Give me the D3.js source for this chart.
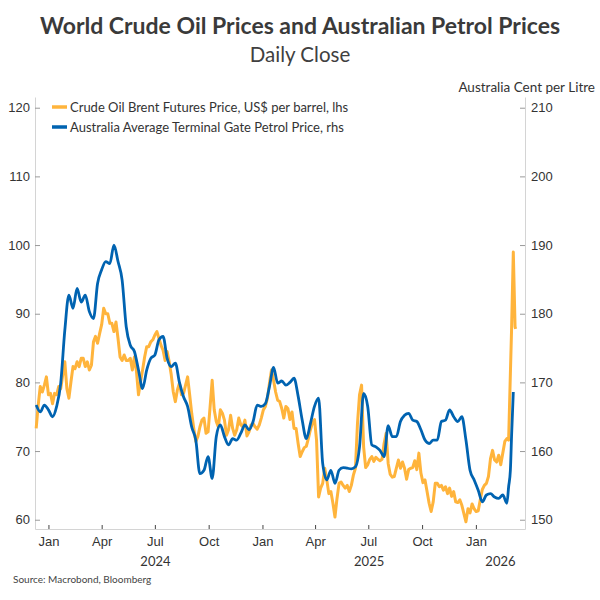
<!DOCTYPE html>
<html>
<head>
<meta charset="utf-8">
<script src="https://cdn.jsdelivr.net/npm/d3@7"></script>
<style>
  body { margin: 0; background: #fff; }
  svg { font-family: Lato, "Open Sans", sans-serif; }
</style>
</head>
<body>
<div id="chart"></div>
<script>
// ---------------- data
// both series start 11 Dec 2023: Brent every 3.5 days, petrol every 7 days,
// then the last days of the March 2026 spike
const seriesStart = "2023-12-11"

const brentHalfWeekly = [
  73.3, 76.7, 79.4, 78.6, 79.6, 80.8, 78.2, 78.4, 76.9, 78.4,
  78.2, 79.4, 79.1, 81.1, 83.0, 79.1, 77.7, 80.1, 82.3, 82.0,
  83.0, 82.3, 83.5, 83.5, 82.3, 83.0, 81.8, 82.5, 85.9, 86.7,
  85.7, 87.1, 88.4, 90.8, 90.0, 90.0, 88.6, 88.6, 87.4, 88.8,
  86.4, 83.7, 83.2, 84.0, 83.2, 83.2, 83.5, 81.8, 83.7, 81.6,
  78.2, 80.1, 81.8, 83.7, 85.2, 85.2, 85.9, 86.2, 86.9, 87.4,
  86.4, 85.4, 84.7, 83.2, 84.5, 83.0, 81.1, 78.6, 77.2, 78.9,
  79.9, 78.2, 78.4, 79.6, 80.8, 78.2, 75.5, 73.3, 71.4, 72.1,
  73.5, 74.5, 74.8, 72.6, 72.8, 76.5, 80.3, 76.0, 74.3, 73.5,
  76.0, 75.5, 74.5, 72.3, 73.1, 75.2, 73.3, 72.3, 73.1, 74.8,
  73.8, 73.5, 74.5, 72.2, 72.8, 73.8, 74.0, 73.5, 73.2, 73.8,
  74.8, 76.0, 76.5, 77.7, 79.9, 81.8, 80.3, 78.6, 77.4, 77.2,
  76.2, 74.8, 76.5, 76.2, 74.6, 75.7, 73.3, 73.3, 71.1, 69.2,
  69.9, 70.5, 70.7, 71.8, 73.1, 74.1, 74.6, 71.6, 63.3, 64.6,
  65.3, 67.5, 65.8, 63.8, 64.1, 62.4, 60.4, 63.1, 65.3, 65.5,
  65.0, 64.6, 65.0, 64.1, 65.0, 66.5, 67.5, 74.0, 78.2, 79.6,
  70.6, 67.6, 68.0, 68.8, 69.2, 68.5, 69.1, 68.8, 68.6, 68.8,
  71.1, 72.6, 68.2, 66.6, 66.2, 66.3, 67.5, 68.7, 67.5, 68.4,
  67.5, 65.9, 67.3, 67.5, 67.6, 68.6, 67.3, 69.7, 66.8, 65.4,
  65.8, 64.1, 62.4, 61.2, 62.6, 65.3, 65.3, 64.8, 65.0, 64.3,
  64.8, 63.8, 64.6, 63.4, 64.1, 62.6, 62.5, 62.9, 62.1, 60.9,
  59.7, 61.6, 61.0, 62.3, 61.6, 61.2, 61.3, 62.9, 64.4, 65.0,
  65.3, 66.3, 68.9, 70.1, 68.7, 68.4, 69.4, 68.0, 69.7, 71.4,
  71.8
]

const petrolWeekly = [
  166.7, 165.7, 166.7, 166.0, 165.0, 166.5, 169.9, 177.6, 182.7, 180.8,
  183.7, 181.7, 182.7, 180.3, 179.3, 184.4, 186.4, 187.6, 187.3, 190.0,
  187.6, 184.9, 178.1, 175.4, 174.5, 171.8, 169.1, 171.8, 173.5, 174.0,
  176.2, 176.7, 173.5, 172.3, 172.8, 170.0, 167.9, 166.5, 163.5, 161.6,
  156.7, 157.2, 159.2, 156.0, 162.1, 163.8, 162.1, 160.9, 161.8, 161.6,
  162.6, 163.8, 163.1, 164.3, 166.7, 166.5, 166.9, 169.4, 172.2, 169.9,
  170.2, 169.6, 170.0, 170.6, 168.0, 164.5, 161.8, 164.0, 166.5, 167.7,
  158.2, 155.8, 157.2, 155.3, 157.2, 157.6, 157.5, 157.4, 157.7, 160.6,
  168.4, 166.5, 160.9, 160.6, 160.1, 159.2, 163.7, 162.1, 162.1, 164.3,
  165.2, 165.5, 164.5, 164.3, 163.1, 161.6, 161.1, 161.6, 161.6, 164.3,
  164.5, 166.0, 165.0, 164.3, 165.0, 161.6, 157.2, 155.8, 154.3, 152.6,
  153.6, 153.8, 153.3, 153.1, 153.6, 152.4
]

const tailDates = ["2026-02-26", "2026-03-01", "2026-03-03", "2026-03-06", "2026-03-09", "2026-03-10"]
const brentTail = [71.6, 81.3, 87.6, 99.0, 88.1, 87.8]
const petrolTail = [154.8, 157.2, 162.1, 168.6]

const leftTicks = [60, 70, 80, 90, 100, 110, 120]
const rightTicks = [150, 160, 170, 180, 190, 200, 210]
const monthTicks = ["2024-01-01", "2024-04-01", "2024-07-01", "2024-10-01",
                    "2025-01-01", "2025-04-01", "2025-07-01", "2025-10-01", "2026-01-01"]
const years = [2024, 2025, 2026]

const seriesNames = [
  "Crude Oil Brent Futures Price, US$ per barrel, lhs",
  "Australia Average Terminal Gate Petrol Price, rhs"
]

// ---------------- dimensions
const dimensions = {
  width: 600,
  height: 600,
  margin: { top: 97, right: 75, bottom: 71, left: 35 }
}
dimensions.boundedWidth = dimensions.width - dimensions.margin.left - dimensions.margin.right
dimensions.boundedHeight = dimensions.height - dimensions.margin.top - dimensions.margin.bottom

const colors = { brent: "#ffb43c", petrol: "#0063b1", text: "#333", axis: "#d4d4d4" }

// ---------------- build rows
const dateParser = d3.timeParse("%Y-%m-%d")
const start = dateParser(seriesStart)

const brent = brentHalfWeekly.map((v, i) => ({ date: d3.timeHour.offset(start, 84 * i), value: v }))
  .concat(brentTail.map((v, i) => ({ date: dateParser(tailDates[i]), value: v })))
const petrol = petrolWeekly.map((v, i) => ({ date: d3.timeDay.offset(start, 7 * i), value: v }))
  .concat(petrolTail.map((v, i) => ({ date: dateParser(tailDates[i]), value: v })))

const dateAccessor = d => d.date
const valueAccessor = d => d.value

// ---------------- wrapper
const wrapper = d3.select("#chart")
  .append("svg")
  .attr("width", dimensions.width)
  .attr("height", dimensions.height)

const bounds = wrapper.append("g")
  .attr("transform", `translate(${dimensions.margin.left},${dimensions.margin.top})`)

// ---------------- scales
const xScale = d3.scaleTime()
  .domain([dateParser("2023-12-09"), dateParser("2026-03-26")])
  .range([0, dimensions.boundedWidth])

const yLeft = d3.scaleLinear()
  .domain([58.65, 121.56])
  .range([dimensions.boundedHeight, 0])

const yRight = d3.scaleLinear()
  .domain([148.65, 211.56])
  .range([dimensions.boundedHeight, 0])

// ---------------- axes
const leftAxis = bounds.append("g")
  .call(d3.axisLeft(yLeft).tickValues(leftTicks).tickSize(-5).tickSizeOuter(0).tickPadding(5))
const rightAxis = bounds.append("g")
  .attr("transform", `translate(${dimensions.boundedWidth},0)`)
  .call(d3.axisRight(yRight).tickValues(rightTicks).tickSize(-5).tickSizeOuter(0).tickPadding(6))
const bottomAxis = bounds.append("g")
  .attr("transform", `translate(0,${dimensions.boundedHeight})`)
  .call(d3.axisBottom(xScale)
    .tickValues(monthTicks.map(dateParser))
    .tickFormat(d3.timeFormat("%b"))
    .tickSize(-4).tickSizeOuter(0).tickPadding(8))

;[leftAxis, rightAxis, bottomAxis].forEach(ax => {
  ax.select(".domain").attr("stroke", colors.axis)
  ax.selectAll("text").attr("fill", colors.text).attr("font-size", 13)
})
leftAxis.selectAll(".tick line").attr("stroke", "#9a9a9a")
rightAxis.selectAll(".tick line").attr("stroke", "#9a9a9a")
bottomAxis.selectAll(".tick line").attr("stroke", "#444")

// year labels centred under the visible part of each year
const [d0, d1] = xScale.domain()
bounds.append("g").selectAll("text")
  .data(years)
  .join("text")
  .attr("x", y => {
    const a = d3.max([new Date(y, 0, 1), d0])
    const b = d3.min([new Date(y + 1, 0, 1), d1])
    return (xScale(a) + xScale(b)) / 2
  })
  .attr("y", dimensions.boundedHeight + 37)
  .attr("text-anchor", "middle")
  .attr("font-size", 13)
  .attr("fill", colors.text)
  .text(d => d)

// ---------------- lines
const brentLine = d3.line()
  .x(d => xScale(dateAccessor(d)))
  .y(d => yLeft(valueAccessor(d)))

const petrolLine = d3.line()
  .x(d => xScale(dateAccessor(d)))
  .y(d => yRight(valueAccessor(d)))
  .curve(d3.curveMonotoneX)

bounds.append("path")
  .datum(brent)
  .attr("d", brentLine)
  .attr("fill", "none")
  .attr("stroke", colors.brent)
  .attr("stroke-width", 3)
  .attr("stroke-linejoin", "round")

bounds.append("path")
  .datum(petrol)
  .attr("d", petrolLine)
  .attr("fill", "none")
  .attr("stroke", colors.petrol)
  .attr("stroke-width", 2.8)
  .attr("stroke-linejoin", "round")

// ---------------- legend
const legend = bounds.append("g")
  .attr("transform", "translate(17,10)")
const legendItems = legend.selectAll("g")
  .data(seriesNames)
  .join("g")
  .attr("transform", (d, i) => `translate(0,${i * 20})`)
legendItems.append("line")
  .attr("x1", 0).attr("x2", 15)
  .attr("stroke", (d, i) => i === 0 ? colors.brent : colors.petrol)
  .attr("stroke-width", 3.5)
legendItems.append("text")
  .attr("x", 18)
  .attr("dy", "0.35em")
  .attr("font-size", 13)
  .attr("fill", colors.text)
  .text(d => d)

// ---------------- titles
wrapper.append("text")
  .attr("x", 300).attr("y", 34)
  .attr("text-anchor", "middle")
  .attr("font-size", 23)
  .attr("font-weight", "bold")
  .attr("fill", "#3a3a3a")
  .text("World Crude Oil Prices and Australian Petrol Prices")

wrapper.append("text")
  .attr("x", 300).attr("y", 62)
  .attr("text-anchor", "middle")
  .attr("font-size", 20.5)
  .attr("fill", "#404040")
  .text("Daily Close")

wrapper.append("text")
  .attr("x", 595).attr("y", 92)
  .attr("text-anchor", "end")
  .attr("font-size", 13.5)
  .attr("fill", colors.text)
  .text("Australia Cent per Litre")

wrapper.append("text")
  .attr("x", 13).attr("y", 583)
  .attr("font-size", 10)
  .attr("fill", "#444")
  .text("Source: Macrobond, Bloomberg")
</script>
</body>
</html>
